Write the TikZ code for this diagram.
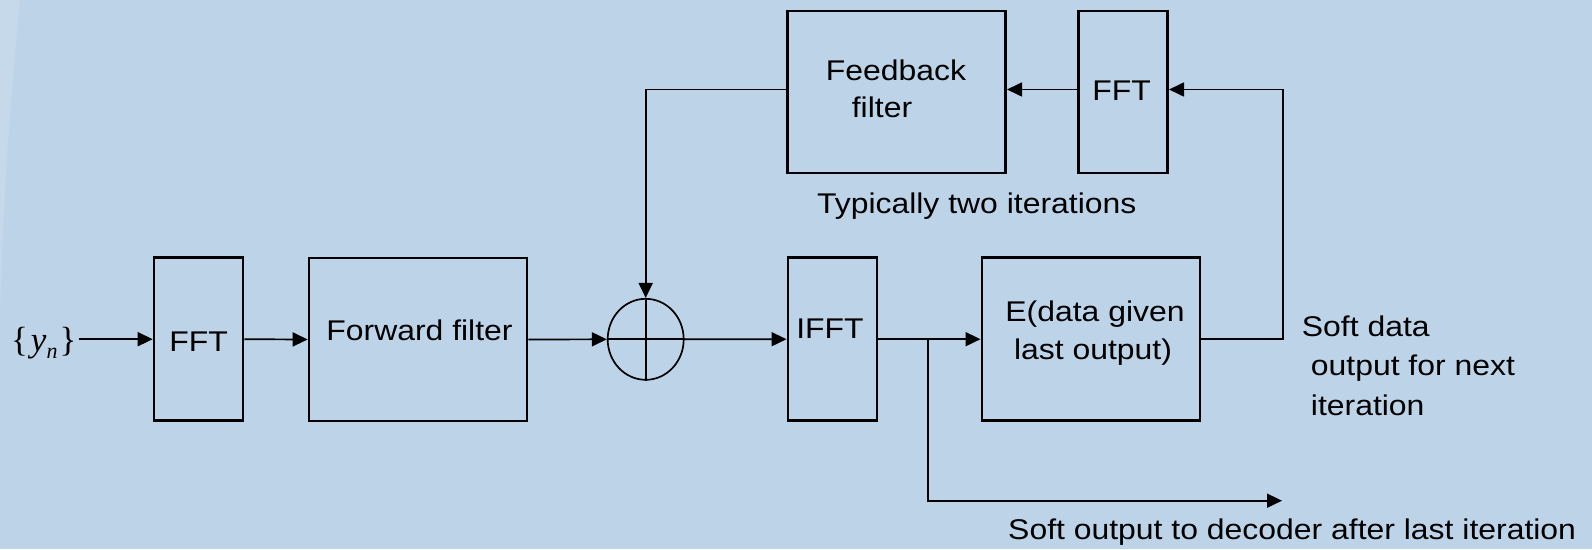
\documentclass[tikz,border=0pt]{standalone}
\usepackage{fontspec}
\setmainfont{Liberation Sans}[FakeStretch=1.12]
\newfontfamily\seriffont{Liberation Serif}
\usetikzlibrary{arrows.meta,calc,shapes.geometric}
\definecolor{bgblue}{RGB}{189,212,232}

\begin{document}
\begin{tikzpicture}[x=1pt,y=-1pt,
  blk/.style={draw, line width=2.6pt, inner sep=0pt},
  conn/.style={line width=1.7pt},
  arr/.style={conn, -{Triangle[length=15pt,width=14pt]}},
  txt/.style={font=\fontsize{28.5}{37}\selectfont, inner sep=0pt, anchor=base},
  txtw/.style={txt, anchor=base west},
]
% background
\fill[bgblue] (0,0) rectangle (1592,549);
\fill[white, opacity=0.13] (0,0) -- (20,0) .. controls (10,100) and (3,200) .. (0,310) -- cycle;
\useasboundingbox (0,0) rectangle (1592,549);

% blocks
\node[blk, minimum width=89pt, minimum height=163pt] (fft1) at (198.5,339.2) {};
\node[blk, minimum width=218pt, minimum height=163pt] (fwd) at (418,339.5) {};
\node[draw, ellipse, line width=1.7pt, minimum width=76pt, minimum height=81pt, inner sep=0pt] (sum) at (645.7,339.3) {};
\node[blk, minimum width=89pt, minimum height=163pt] (ifft) at (832.3,339.2) {};
\node[blk, minimum width=218pt, minimum height=163pt] (est) at (1090.8,339.2) {};
\node[blk, minimum width=218pt, minimum height=162pt] (fb) at (896.7,92) {};
\node[blk, minimum width=89pt, minimum height=162pt] (fft2) at (1123.2,92) {};

% cross inside the summing junction
\draw[line width=1.7pt] (sum.north) -- (sum.south) (sum.west) -- (sum.east);

% block labels
\node[txt] at (198.5,351.5) {FFT};
\node[txt] at (419.5,340) {Forward filter};
\node[txt] at (830,338.3) {IFFT};
\node[txt] at (896,80) {Feedback};
\node[txt] at (882,117) {filter};
\node[txt] at (1121.7,100) {FFT};
\node[txt] at (1095,321.7) {E(data given};
\node[txt] at (1093,359) {last output)};

% free text
\node[txt] (iters) at (976.7,213.5) {Typically two iterations};
\node[txtw] (soft1) at (1301.7,336.7) {Soft data};
\node[txtw] (soft2) at (1310.7,375.5) {output for next};
\node[txtw] (soft3) at (1310.7,415) {iteration};
\node[txtw] (dec) at (1008,539) {Soft output to decoder after last iteration};

% input symbol
\node[font=\seriffont\fontsize{35}{38}\selectfont, inner sep=0pt, anchor=base west] (yin) at (11,351)
  {\{\kern3pt\textit{y}\raisebox{-0.22em}{\fontsize{22}{25}\selectfont\textit{n}}\kern2pt\}};

% helper points
\coordinate (br) at (927.7,339.2);
\coordinate (out) at (1282,500.7);
\coordinate (rx) at (1283,89.5);

% forward path
\draw[arr] (yin.east |- fft1.west) ++(2,0) -- (fft1.west);
\draw[arr] (fft1.east) -- (fwd.west);
\draw[arr] (fwd.east) -- (sum.west);
\draw[arr] (sum.east) -- (ifft.west);
\draw[arr] (ifft.east) -- (est.west);
\draw[arr] (br) |- (out);

% feedback path
\draw[arr] (est.east) -- (rx |- est.east) -- (rx) -- (rx -| fft2.east);
\draw[arr] (fft2.west |- rx) -- (fb.east |- rx);
\draw[arr] (fb.west |- rx) -| (sum.north);
\end{tikzpicture}
\end{document}
